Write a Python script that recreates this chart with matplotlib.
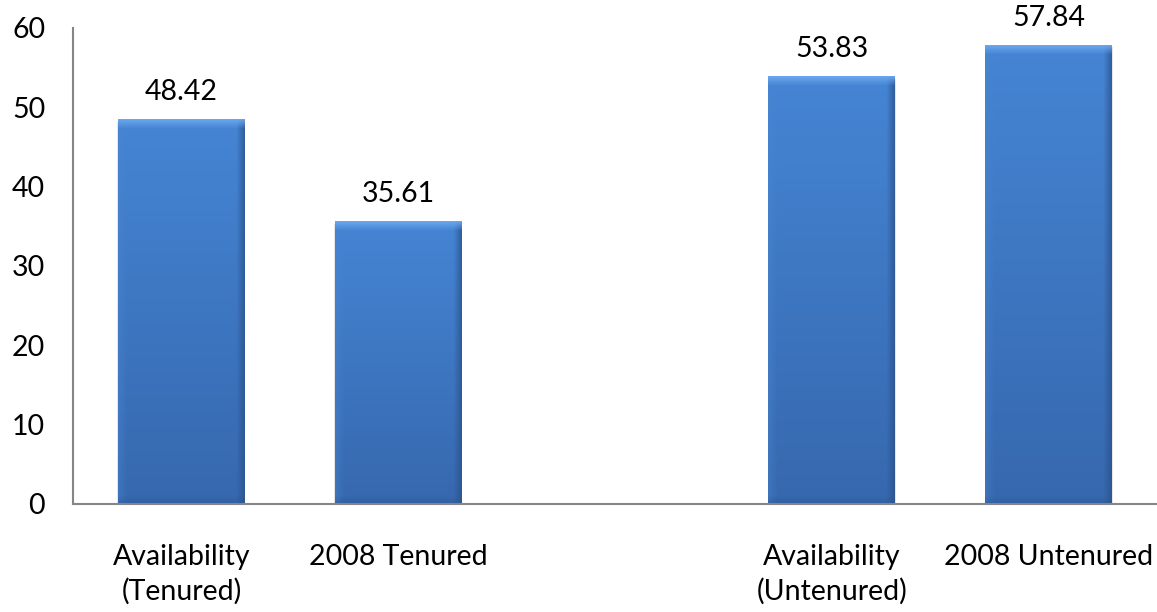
import numpy as np
import matplotlib
matplotlib.use("Agg")
import matplotlib.pyplot as plt
from matplotlib.colors import to_rgb

categories = ["Availability\n(Tenured)", "2008 Tenured", "", "Availability\n(Untenured)", "2008 Untenured"]
values = [48.42, 35.61, None, 53.83, 57.84]
yticks = [0, 10, 20, 30, 40, 50, 60]

plt.rcParams['font.family'] = ['Lato', 'DejaVu Sans']
FS = 20.5

fig = plt.figure(figsize=(11.57, 6.12), dpi=100)
ax = fig.add_axes([0.0631, 0.1765, 0.9369, 0.7778])

x = np.arange(len(categories))
plot_vals = [v if v is not None else 0 for v in values]
width = 0.585
bars = ax.bar(x, plot_vals, width=width, color="#4282d2", zorder=2)

ax.set_xlim(-0.5, len(categories) - 0.5)
ax.set_ylim(0, 60)
fig.canvas.draw()

px_per_unit = ax.transData.transform((0, 1))[1] - ax.transData.transform((0, 0))[1]
px_per_x = ax.transData.transform((1, 0))[0] - ax.transData.transform((0, 0))[0]

top_c = np.array(to_rgb("#4585d4"))
bot_c = np.array(to_rgb("#3668ae"))
bevel_top = np.array(to_rgb("#6eaaf0"))
edge_r = np.array(to_rgb("#2a4f88"))
edge_l = np.array(to_rgb("#4a86d0"))

for b, v in zip(bars, values):
    if v is None:
        b.set_visible(False)
        continue
    bx, bw, bh = b.get_x(), b.get_width(), b.get_height()
    hp = max(int(bh * px_per_unit), 2)
    wp = max(int(bw * px_per_x), 2)
    t = np.linspace(0, 1, hp)[:, None, None]
    img = top_c * (1 - t) + bot_c * t
    img = np.repeat(img, wp, axis=1)
    cols = np.arange(wp)
    rows = np.arange(hp)
    bev = 9
    rfac = np.clip((cols - (wp - bev)) / bev, 0, 1)[None, :, None]
    img = img * (1 - 0.8 * rfac) + edge_r * 0.8 * rfac
    lfac = np.clip((bev - cols) / bev, 0, 1)[None, :, None]
    img = img * (1 - 0.4 * lfac) + edge_l * 0.4 * lfac
    tfac = np.clip((bev - rows) / bev, 0, 1)[:, None, None]
    img = img * (1 - 0.9 * tfac) + bevel_top * 0.9 * tfac
    bfac = np.clip((rows - (hp - bev)) / bev, 0, 1)[:, None, None]
    img = img * (1 - 0.5 * bfac) + np.array(to_rgb("#2b5592")) * 0.5 * bfac
    ax.imshow(np.clip(img, 0, 1), extent=(bx, bx + bw, 0, bh), aspect='auto',
              zorder=3, interpolation='bilinear')
    ax.bar(bx + bw / 2, bh + 0.3, width=bw * 1.01, color="#000000", alpha=0.10,
           zorder=1.5, bottom=-0.6)
    ax.annotate(f"{v:.2f}", (bx + bw / 2, bh), xytext=(0, 10.5), textcoords="offset points",
                ha="center", va="bottom", fontsize=FS, color="#000000")

ax.set_xlim(-0.5, len(categories) - 0.5)
ax.set_ylim(0, 60)
ax.set_xticks(x)
ax.set_xticklabels(categories, fontsize=FS, linespacing=1.39)
ax.set_yticks(yticks)
ax.set_yticklabels([str(t) for t in yticks], fontsize=FS)
ax.tick_params(axis='x', length=0, pad=28.5)
ax.tick_params(axis='y', length=0, pad=20)
for s in ["top", "right"]:
    ax.spines[s].set_visible(False)
for s in ["left", "bottom"]:
    ax.spines[s].set_color("#868686")
    ax.spines[s].set_linewidth(1.5)
    ax.spines[s].set_zorder(4)

fig.savefig("out.png", dpi=100)
